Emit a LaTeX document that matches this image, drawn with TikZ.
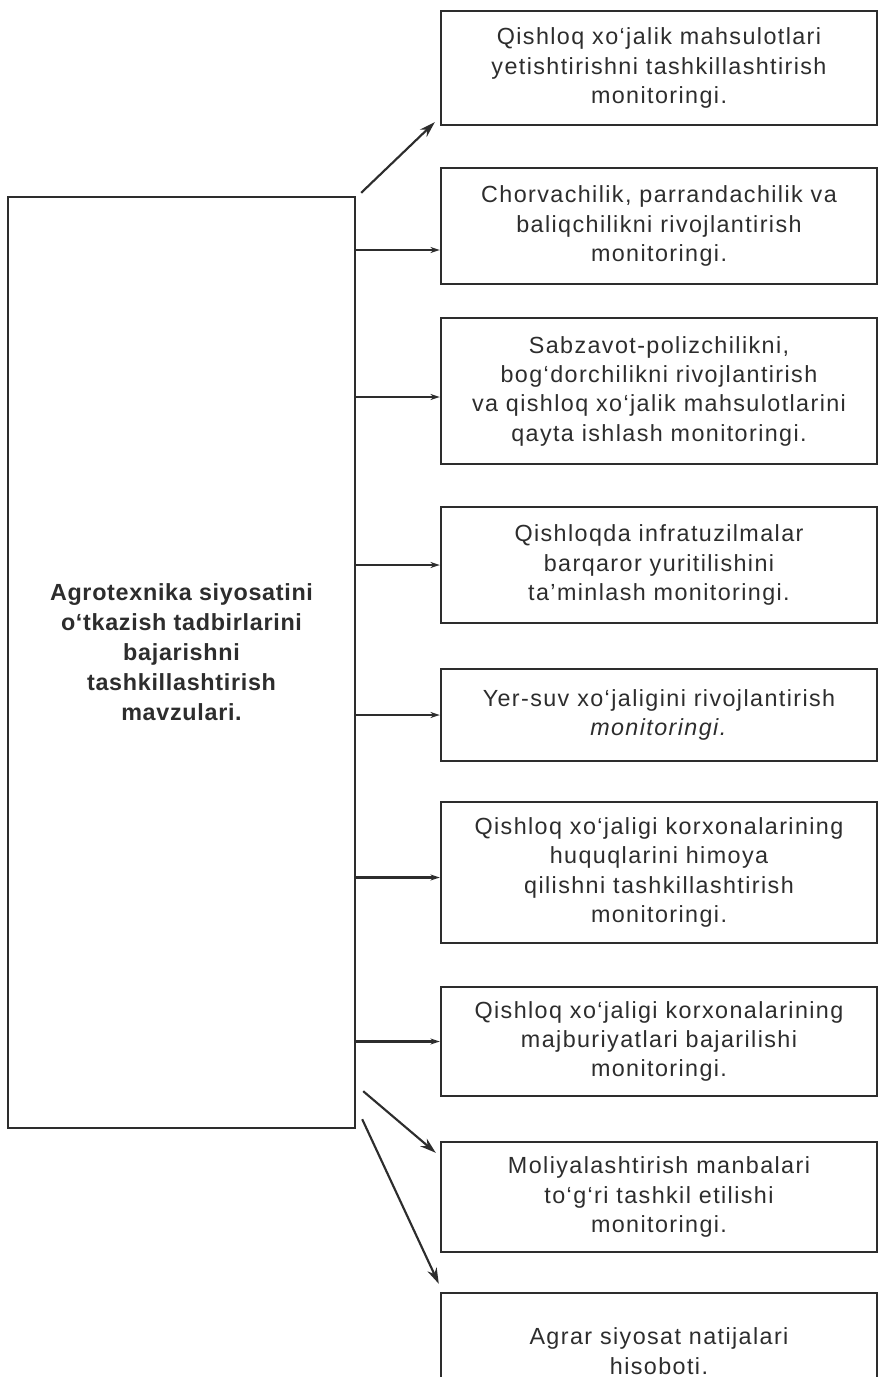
\documentclass[tikz,border=0pt]{standalone}
\usepackage{fontspec}
\setmainfont{Liberation Sans}[LetterSpace=6,BoldFeatures={LetterSpace=3},ItalicFeatures={LetterSpace=6}]
\usetikzlibrary{arrows.meta,calc}
\definecolor{ink}{RGB}{45,45,45}
\begin{document}
\begin{tikzpicture}[x=0.75pt,y=-0.75pt,
  every node/.style={text=ink},
  rbox/.style={draw=ink,line width=1.8pt,minimum width=327pt,align=center,inner sep=2pt,
    font=\fontsize{17.5pt}{22pt}\selectfont},
  lbox/.style={draw=ink,line width=1.8pt,minimum width=260.25pt,minimum height=698.25pt},
  harr/.style={draw=ink,line width=1.8pt,-{Stealth[length=7pt,width=4.5pt]}},
  darr/.style={draw=ink,line width=1.6pt,-{Stealth[length=12pt,width=7.5pt]}}]
\useasboundingbox (0,0) rectangle (880,1377);
\clip (0,0) rectangle (880,1377);
\fill[white] (0,0) rectangle (880,1377);

\node[lbox] (L) at (181.5,662.5) {};
\node[align=center,font=\fontsize{17.5pt}{22.5pt}\selectfont\bfseries] (LT) at (181.5,652)
  {Agrotexnika siyosatini\\o‘tkazish tadbirlarini\\bajarishni\\tashkillashtirish\\mavzulari.};

\node[rbox,minimum height=85.5pt] (B1) at (659,68)
  {Qishloq xo‘jalik mahsulotlari\\yetishtirishni tashkillashtirish\\monitoringi.};
\node[rbox,minimum height=87pt] (B2) at (659,226)
  {Chorvachilik, parrandachilik va\\baliqchilikni rivojlantirish\\monitoringi.};
\node[rbox,minimum height=109.5pt] (B3) at (659,391)
  {Sabzavot-polizchilikni,\\bog‘dorchilikni rivojlantirish\\va qishloq xo‘jalik mahsulotlarini\\qayta ishlash monitoringi.};
\node[rbox,minimum height=87pt] (B4) at (659,565)
  {Qishloqda infratuzilmalar\\barqaror yuritilishini\\ta’minlash monitoringi.};
\node[rbox,minimum height=69pt] (B5) at (659,715)
  {Yer-suv xo‘jaligini rivojlantirish\\\textit{monitoringi.}};
\node[rbox,minimum height=105.75pt] (B6) at (659,872.5)
  {Qishloq xo‘jaligi korxonalarining\\huquqlarini himoya\\qilishni tashkillashtirish\\monitoringi.};
\node[rbox,minimum height=81.75pt] (B7) at (659,1041.5)
  {Qishloq xo‘jaligi korxonalarining\\majburiyatlari bajarilishi\\monitoringi.};
\node[rbox,minimum height=82.5pt] (B8) at (659,1197)
  {Moliyalashtirish manbalari\\to‘g‘ri tashkil etilishi\\monitoringi.};
\node[rbox,minimum height=87pt] (B9) at (659,1351)
  {Agrar siyosat natijalari\\hisoboti.};

% diagonal connectors
\coordinate (s1) at ($(L.north east)+(5,-3)$);
\coordinate (e1) at ($(B1.south west)+(-5,-4)$);
\draw[darr] (s1) -- (e1);
\coordinate (s8) at ($(L.south east)+(7,-38)$);
\coordinate (e8) at ($(B8.north west)+(-4,12)$);
\draw[darr] (s8) -- (e8);
\coordinate (s9) at ($(L.south east)+(6,-10)$);
\coordinate (e9) at ($(B9.north west)+(-1,-8)$);
\draw[darr] (s9) -- (e9);

% horizontal connectors
\coordinate (e2) at ($(B2.west)+(0,24)$);
\draw[harr] (L.east |- e2) -- (e2);
\draw[harr] ($(L.east |- B3.west)+(0,6)$) -- ($(B3.west)+(0,6)$);
\draw[harr] (L.east |- B4.west) -- (B4.west);
\draw[harr] (L.east |- B5.west) -- (B5.west);
\draw[harr] ($(L.east |- B6.west)+(0,5)$) -- ($(B6.west)+(0,5)$);
\draw[harr] (L.east |- B7.west) -- (B7.west);
\end{tikzpicture}
\end{document}
